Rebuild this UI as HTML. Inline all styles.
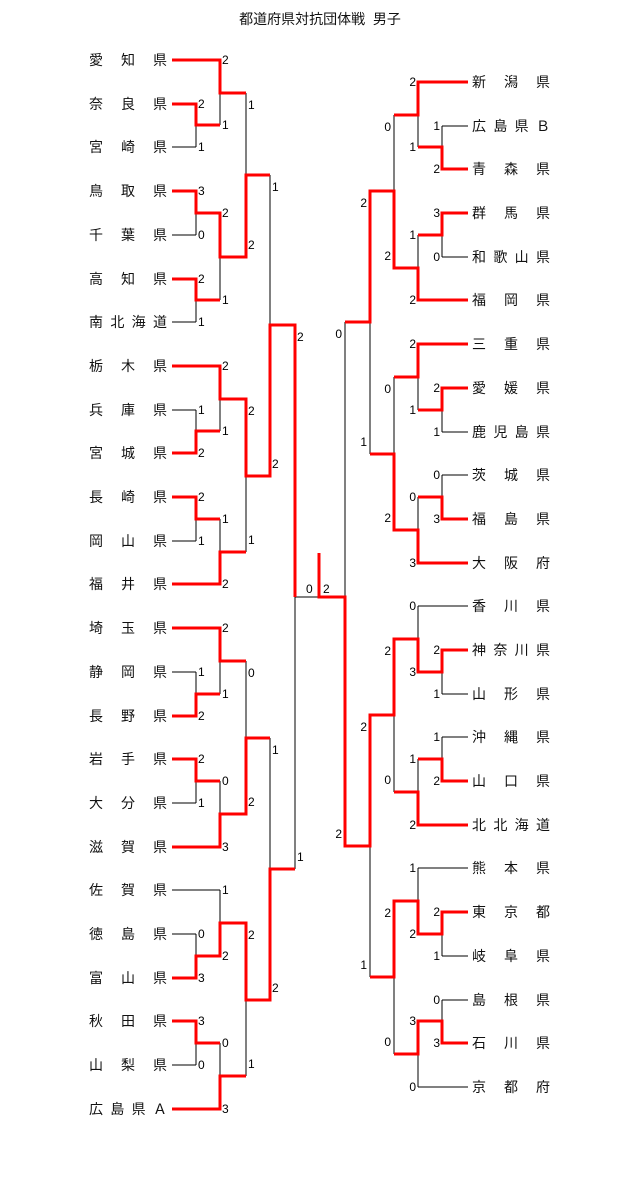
<!DOCTYPE html>
<html><head><meta charset="utf-8"><style>
html,body{margin:0;padding:0;background:#fff;}
#w{position:relative;width:640px;height:1193px;overflow:hidden;font-family:"Liberation Sans","Noto Sans CJK JP",sans-serif;}
.n{position:absolute;width:78px;height:18px;display:flex;justify-content:space-between;align-items:center;font-size:14px;color:#111;line-height:18px;}
.t{position:absolute;left:0;width:640px;top:9px;text-align:center;font-size:14px;color:#111;}
svg{position:absolute;left:0;top:0;}
svg text{font-family:"Liberation Sans",sans-serif;font-size:12px;fill:#000;dominant-baseline:central;}
</style></head><body><div id="w">
<div class="t">都道府県対抗団体戦&nbsp;&nbsp;男子</div>
<svg width="640" height="1193" viewBox="0 0 640 1193">
<path fill="none" stroke="#000" stroke-width="1" d="
M172 60H220 M172 104H196 M172 147H196 M172 191H196 M172 235H196 M172 279H196 M172 322H196 M172 366H220 M172 410H196 M172 453H196 M172 497H196 M172 541H196 M172 584H220 M172 628H220 M172 672H196 M172 716H196 M172 759H196 M172 803H196 M172 847H220 M172 890H220 M172 934H196 M172 978H196 M172 1021H196 M172 1065H196 M172 1109H220
M196 104V147 M196 125H220 M196 191V235 M196 213H220 M196 279V322 M196 300H220 M196 410V453 M196 431H220 M196 497V541 M196 519H220 M196 672V716 M196 694H220 M196 759V803 M196 781H220 M196 934V978 M196 956H220 M196 1021V1065 M196 1043H220
M220 60V125 M220 93H246 M220 213V300 M220 257H246 M220 366V431 M220 399H246 M220 519V584 M220 552H246 M220 628V694 M220 661H246 M220 781V847 M220 814H246 M220 890V956 M220 923H246 M220 1043V1109 M220 1076H246
M246 93V257 M246 175H270 M246 399V552 M246 476H270 M246 661V814 M246 738H270 M246 923V1076 M246 1000H270
M270 175V476 M270 325H295 M270 738V1000 M270 869H295
M295 325V869 M295 597H345
M345 322V846
M345 322H370 M370 191V454 M345 846H370 M370 715V977
M370 191H394 M394 115V268 M370 454H394 M394 377V530 M370 715H394 M394 639V792 M370 977H394 M394 901V1054
M394 115H418 M418 82V147 M394 268H418 M418 235V300 M394 377H418 M418 344V410 M394 530H418 M418 497V563 M394 639H418 M418 606V672 M394 792H418 M418 759V825 M394 901H418 M418 868V934 M394 1054H418 M418 1021V1087
M418 147H442 M442 126V169 M418 235H442 M442 213V257 M418 410H442 M442 388V432 M418 497H442 M442 475V519 M418 672H442 M442 650V694 M418 759H442 M442 737V781 M418 934H442 M442 912V956 M418 1021H442 M442 1000V1043
M418 82H468 M442 126H468 M442 169H468 M442 213H468 M442 257H468 M418 300H468 M418 344H468 M442 388H468 M442 432H468 M442 475H468 M442 519H468 M418 563H468 M418 606H468 M442 650H468 M442 694H468 M442 737H468 M442 781H468 M418 825H468 M418 868H468 M442 912H468 M442 956H468 M442 1000H468 M442 1043H468 M418 1087H468"/>
<path fill="none" stroke="#f00" stroke-width="3" stroke-linejoin="miter" d="
M172 60H220V93H246
M172 104H196V125H220
M172 191H196V213H220V257H246V175H270
M172 279H196V300H220
M172 366H220V399H246V476H270V325H295V597
M172 453H196V431H220
M172 497H196V519H220
M172 584H220V552H246
M172 628H220V661H246
M172 716H196V694H220
M172 759H196V781H220
M172 847H220V814H246V738H270
M172 978H196V956H220V923H246V1000H270V869H295
M172 1021H196V1043H220
M172 1109H220V1076H246
M468 82H418V115H394
M468 169H442V147H418
M468 213H442V235H418
M468 300H418V268H394V191H370V322H345
M468 344H418V377H394
M468 388H442V410H418
M468 519H442V497H418
M468 563H418V530H394V454H370
M468 650H442V672H418V639H394V715H370V846H345V597H319V553
M468 781H442V759H418
M468 825H418V792H394
M468 912H442V934H418V901H394V977H370
M468 1043H442V1021H418V1054H394"/>
<g text-anchor="start">
<text x="198" y="104">2</text><text x="198" y="147">1</text>
<text x="198" y="191">3</text><text x="198" y="235">0</text>
<text x="198" y="279">2</text><text x="198" y="322">1</text>
<text x="198" y="410">1</text><text x="198" y="453">2</text>
<text x="198" y="497">2</text><text x="198" y="541">1</text>
<text x="198" y="672">1</text><text x="198" y="716">2</text>
<text x="198" y="759">2</text><text x="198" y="803">1</text>
<text x="198" y="934">0</text><text x="198" y="978">3</text>
<text x="198" y="1021">3</text><text x="198" y="1065">0</text>
<text x="222" y="60">2</text><text x="222" y="125">1</text>
<text x="222" y="213">2</text><text x="222" y="300">1</text>
<text x="222" y="366">2</text><text x="222" y="431">1</text>
<text x="222" y="519">1</text><text x="222" y="584">2</text>
<text x="222" y="628">2</text><text x="222" y="694">1</text>
<text x="222" y="781">0</text><text x="222" y="847">3</text>
<text x="222" y="890">1</text><text x="222" y="956">2</text>
<text x="222" y="1043">0</text><text x="222" y="1109">3</text>
<text x="248" y="105">1</text><text x="248" y="245">2</text>
<text x="248" y="411">2</text><text x="248" y="540">1</text>
<text x="248" y="673">0</text><text x="248" y="802">2</text>
<text x="248" y="935">2</text><text x="248" y="1064">1</text>
<text x="272" y="187">1</text><text x="272" y="464">2</text>
<text x="272" y="750">1</text><text x="272" y="988">2</text>
<text x="297" y="337">2</text><text x="297" y="857">1</text>
<text x="306" y="589">0</text><text x="323" y="589">2</text>
</g>
<g text-anchor="end">
<text x="440" y="126">1</text><text x="440" y="169">2</text>
<text x="440" y="213">3</text><text x="440" y="257">0</text>
<text x="440" y="388">2</text><text x="440" y="432">1</text>
<text x="440" y="475">0</text><text x="440" y="519">3</text>
<text x="440" y="650">2</text><text x="440" y="694">1</text>
<text x="440" y="737">1</text><text x="440" y="781">2</text>
<text x="440" y="912">2</text><text x="440" y="956">1</text>
<text x="440" y="1000">0</text><text x="440" y="1043">3</text>
<text x="416" y="82">2</text><text x="416" y="147">1</text>
<text x="416" y="235">1</text><text x="416" y="300">2</text>
<text x="416" y="344">2</text><text x="416" y="410">1</text>
<text x="416" y="497">0</text><text x="416" y="563">3</text>
<text x="416" y="606">0</text><text x="416" y="672">3</text>
<text x="416" y="759">1</text><text x="416" y="825">2</text>
<text x="416" y="868">1</text><text x="416" y="934">2</text>
<text x="416" y="1021">3</text><text x="416" y="1087">0</text>
<text x="391" y="127">0</text><text x="391" y="256">2</text>
<text x="391" y="389">0</text><text x="391" y="518">2</text>
<text x="391" y="651">2</text><text x="391" y="780">0</text>
<text x="391" y="913">2</text><text x="391" y="1042">0</text>
<text x="367" y="203">2</text><text x="367" y="442">1</text>
<text x="367" y="727">2</text><text x="367" y="965">1</text>
<text x="342" y="334">0</text><text x="342" y="834">2</text>
</g>
</svg>
<div class="n" style="left:89px;top:51px"><span>愛</span><span>知</span><span>県</span></div>
<div class="n" style="left:89px;top:95px"><span>奈</span><span>良</span><span>県</span></div>
<div class="n" style="left:89px;top:138px"><span>宮</span><span>崎</span><span>県</span></div>
<div class="n" style="left:89px;top:182px"><span>鳥</span><span>取</span><span>県</span></div>
<div class="n" style="left:89px;top:226px"><span>千</span><span>葉</span><span>県</span></div>
<div class="n" style="left:89px;top:270px"><span>高</span><span>知</span><span>県</span></div>
<div class="n" style="left:89px;top:313px"><span>南</span><span>北</span><span>海</span><span>道</span></div>
<div class="n" style="left:89px;top:357px"><span>栃</span><span>木</span><span>県</span></div>
<div class="n" style="left:89px;top:401px"><span>兵</span><span>庫</span><span>県</span></div>
<div class="n" style="left:89px;top:444px"><span>宮</span><span>城</span><span>県</span></div>
<div class="n" style="left:89px;top:488px"><span>長</span><span>崎</span><span>県</span></div>
<div class="n" style="left:89px;top:532px"><span>岡</span><span>山</span><span>県</span></div>
<div class="n" style="left:89px;top:575px"><span>福</span><span>井</span><span>県</span></div>
<div class="n" style="left:89px;top:619px"><span>埼</span><span>玉</span><span>県</span></div>
<div class="n" style="left:89px;top:663px"><span>静</span><span>岡</span><span>県</span></div>
<div class="n" style="left:89px;top:707px"><span>長</span><span>野</span><span>県</span></div>
<div class="n" style="left:89px;top:750px"><span>岩</span><span>手</span><span>県</span></div>
<div class="n" style="left:89px;top:794px"><span>大</span><span>分</span><span>県</span></div>
<div class="n" style="left:89px;top:838px"><span>滋</span><span>賀</span><span>県</span></div>
<div class="n" style="left:89px;top:881px"><span>佐</span><span>賀</span><span>県</span></div>
<div class="n" style="left:89px;top:925px"><span>徳</span><span>島</span><span>県</span></div>
<div class="n" style="left:89px;top:969px"><span>富</span><span>山</span><span>県</span></div>
<div class="n" style="left:89px;top:1012px"><span>秋</span><span>田</span><span>県</span></div>
<div class="n" style="left:89px;top:1056px"><span>山</span><span>梨</span><span>県</span></div>
<div class="n" style="left:89px;top:1100px"><span>広</span><span>島</span><span>県</span><span>Ａ</span></div>
<div class="n" style="left:472px;top:73px"><span>新</span><span>潟</span><span>県</span></div>
<div class="n" style="left:472px;top:117px"><span>広</span><span>島</span><span>県</span><span>Ｂ</span></div>
<div class="n" style="left:472px;top:160px"><span>青</span><span>森</span><span>県</span></div>
<div class="n" style="left:472px;top:204px"><span>群</span><span>馬</span><span>県</span></div>
<div class="n" style="left:472px;top:248px"><span>和</span><span>歌</span><span>山</span><span>県</span></div>
<div class="n" style="left:472px;top:291px"><span>福</span><span>岡</span><span>県</span></div>
<div class="n" style="left:472px;top:335px"><span>三</span><span>重</span><span>県</span></div>
<div class="n" style="left:472px;top:379px"><span>愛</span><span>媛</span><span>県</span></div>
<div class="n" style="left:472px;top:423px"><span>鹿</span><span>児</span><span>島</span><span>県</span></div>
<div class="n" style="left:472px;top:466px"><span>茨</span><span>城</span><span>県</span></div>
<div class="n" style="left:472px;top:510px"><span>福</span><span>島</span><span>県</span></div>
<div class="n" style="left:472px;top:554px"><span>大</span><span>阪</span><span>府</span></div>
<div class="n" style="left:472px;top:597px"><span>香</span><span>川</span><span>県</span></div>
<div class="n" style="left:472px;top:641px"><span>神</span><span>奈</span><span>川</span><span>県</span></div>
<div class="n" style="left:472px;top:685px"><span>山</span><span>形</span><span>県</span></div>
<div class="n" style="left:472px;top:728px"><span>沖</span><span>縄</span><span>県</span></div>
<div class="n" style="left:472px;top:772px"><span>山</span><span>口</span><span>県</span></div>
<div class="n" style="left:472px;top:816px"><span>北</span><span>北</span><span>海</span><span>道</span></div>
<div class="n" style="left:472px;top:859px"><span>熊</span><span>本</span><span>県</span></div>
<div class="n" style="left:472px;top:903px"><span>東</span><span>京</span><span>都</span></div>
<div class="n" style="left:472px;top:947px"><span>岐</span><span>阜</span><span>県</span></div>
<div class="n" style="left:472px;top:991px"><span>島</span><span>根</span><span>県</span></div>
<div class="n" style="left:472px;top:1034px"><span>石</span><span>川</span><span>県</span></div>
<div class="n" style="left:472px;top:1078px"><span>京</span><span>都</span><span>府</span></div>
</div></body></html>
